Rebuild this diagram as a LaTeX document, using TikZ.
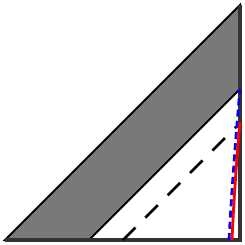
\documentclass[tikz,border=0pt]{standalone}
\begin{document}
\begin{tikzpicture}[x=0.1cm,y=0.1cm]
      \useasboundingbox (0,0) rectangle (24.5,24.5);
      % corners of the diagram
      \coordinate (O) at (0.5,0.5);
      \coordinate (R) at (24,0.5);
      \coordinate (T) at (24,24);
      \coordinate (I) at (8.9,0.5);
      \coordinate (J) at (24,15.6);

      \draw[fill=gray!95!black,line width=0.6pt] (O) -- (T) -- (J) -- (I) -- cycle;
      \draw[line width=1pt,color=black!80] (O) -- (R) -- (T);

      \draw[dashed,dash pattern=on 5pt off 4pt,thick] (12.3,0.5) -- (23.6,11.8);

      \draw[color=blue,dashed,dash pattern=on 2pt off 1.2pt,thick] (22.9,0.5) .. controls (23.2,6) and (23.6,11) .. (J);
      \draw[color=red,thick] (23.2,0.5) .. controls (23.4,5) and (23.7,9) .. (24,12.3);
\end{tikzpicture}
\end{document}
